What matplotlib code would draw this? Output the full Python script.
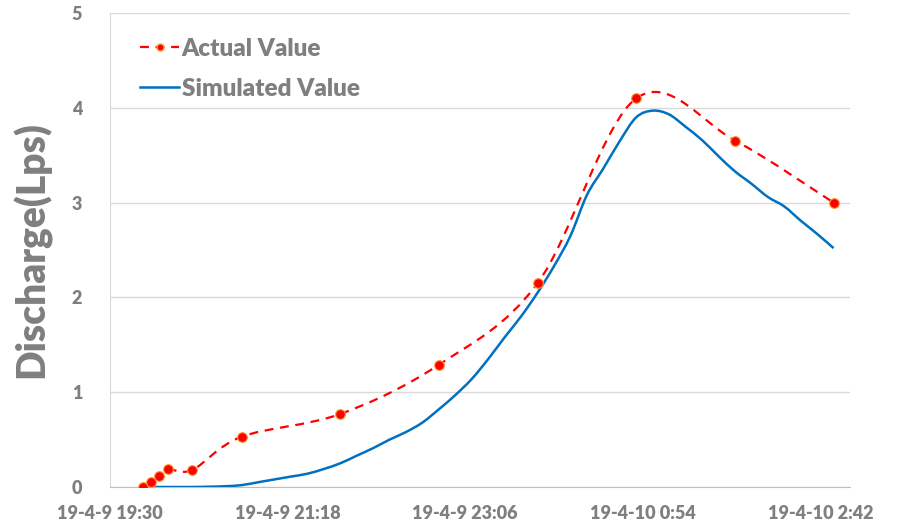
import matplotlib
matplotlib.use('Agg')
import matplotlib.pyplot as plt
import matplotlib.dates as mdates
from matplotlib.path import Path
from matplotlib.patches import PathPatch
from matplotlib.lines import Line2D
from datetime import datetime, timedelta
import numpy as np

START = datetime(2019, 4, 9, 19, 30)

# minutes after 19-4-9 19:30
actual_min = [20, 25, 30, 35, 50, 80, 140, 200, 260, 320, 380, 440]
actual_val = [0.0, 0.05, 0.12, 0.19, 0.18, 0.53, 0.77, 1.29, 2.15, 4.10, 3.655, 3.0]

sim_min = [20, 30, 40, 50, 60, 70, 80, 90, 100, 110, 120, 130, 140, 150, 160,
           170, 180, 190, 200, 210, 220, 230, 240, 250, 260, 270, 280, 290,
           300, 310, 320, 330, 340, 350, 360, 370, 380, 390, 400, 410, 420,
           430, 440]
sim_val = [0.0, 0.0, 0.0, 0.0, 0.003, 0.008, 0.02, 0.05, 0.08, 0.11, 0.14,
           0.19, 0.25, 0.33, 0.41, 0.50, 0.58, 0.68, 0.82, 0.97, 1.14, 1.35,
           1.58, 1.80, 2.05, 2.33, 2.65, 3.08, 3.36, 3.65, 3.90, 3.97, 3.93,
           3.80, 3.66, 3.49, 3.33, 3.20, 3.06, 2.96, 2.81, 2.67, 2.52]

tick_min = [0, 108, 216, 324, 432]
x_range = (0, 450)
y_ticks = [0, 1, 2, 3, 4, 5]

GREY = '#7f7f7f'
FONT = 'Lato'
WEIGHT = 'heavy'

def to_dt(mins):
    return [mdates.date2num(START + timedelta(minutes=m)) for m in mins]

def smooth_path(xs, ys):
    # Excel-like smoothed line: cubic Bezier segments through the points
    px, py = np.asarray(xs), np.asarray(ys)
    verts = [(px[0], py[0])]
    codes = [Path.MOVETO]
    n = len(px)
    for i in range(n - 1):
        a, b = max(i - 1, 0), min(i + 2, n - 1)
        c1 = (px[i] + (px[i + 1] - px[a]) / 6, py[i] + (py[i + 1] - py[a]) / 6)
        c2 = (px[i + 1] - (px[b] - px[i]) / 6, py[i + 1] - (py[b] - py[i]) / 6)
        verts += [c1, c2, (px[i + 1], py[i + 1])]
        codes += [Path.CURVE4] * 3
    return Path(verts, codes)

ax_x = to_dt(actual_min)
sx = to_dt(sim_min)

fig = plt.figure(figsize=(8.99, 5.27), dpi=100)
ax = fig.add_axes([0.1224, 0.0759, 0.8231, 0.8994])

ax.add_patch(PathPatch(smooth_path(ax_x, actual_val), facecolor='none',
                       edgecolor='#ff0000', lw=1.6, linestyle=(0, (4, 3)),
                       zorder=3))
ax.plot(ax_x, actual_val, linestyle='none', marker='o', ms=7,
        mfc='#ff0000', mec='#ff9933', mew=0.8, zorder=4)

ax.add_patch(PathPatch(smooth_path(sx, sim_val), facecolor='none',
                       edgecolor='#0070c0', lw=1.8, zorder=3))

ax.set_xlim(*to_dt(x_range))
ax.set_ylim(0, 5)
ax.set_xticks(to_dt(tick_min))

def fmt(x, _):
    d = mdates.num2date(x)
    return f'{d.year % 100}-{d.month}-{d.day} {d.hour}:{d.minute:02d}'

ax.xaxis.set_major_formatter(plt.FuncFormatter(fmt))
ax.set_yticks(y_ticks)
ax.yaxis.grid(True, color='#d9d9d9', lw=1)
ax.set_axisbelow(True)
for s in ['top', 'right']:
    ax.spines[s].set_visible(False)
ax.spines['left'].set_color('#d9d9d9')
ax.spines['bottom'].set_color('#bfbfbf')
ax.tick_params(length=0, labelcolor=GREY, labelsize=13)
ax.tick_params(axis='x', pad=13)
ax.tick_params(axis='y', pad=20)
for lab in ax.get_xticklabels() + ax.get_yticklabels():
    lab.set_fontfamily(FONT)
    lab.set_fontweight(WEIGHT)

ax.set_ylabel('Discharge(Lps)', fontsize=28, fontweight=WEIGHT, color=GREY,
              family=FONT, labelpad=15)

handles = [
    Line2D([0], [0], color='#ff0000', lw=1.6, linestyle=(0, (4, 3)), marker='o',
           ms=5, mfc='#ff0000', mec='#ff9933'),
    Line2D([0], [0], color='#0070c0', lw=1.8),
]
leg = ax.legend(handles, ['Actual Value', 'Simulated Value'], loc='upper left',
                bbox_to_anchor=(0.0115, 0.994), frameon=False, handlelength=1.6,
                handletextpad=0.1, labelspacing=0.75,
                prop={'family': FONT, 'weight': WEIGHT, 'size': 17.5})
for t in leg.get_texts():
    t.set_color(GREY)

fig.savefig('out.png', dpi=100)
